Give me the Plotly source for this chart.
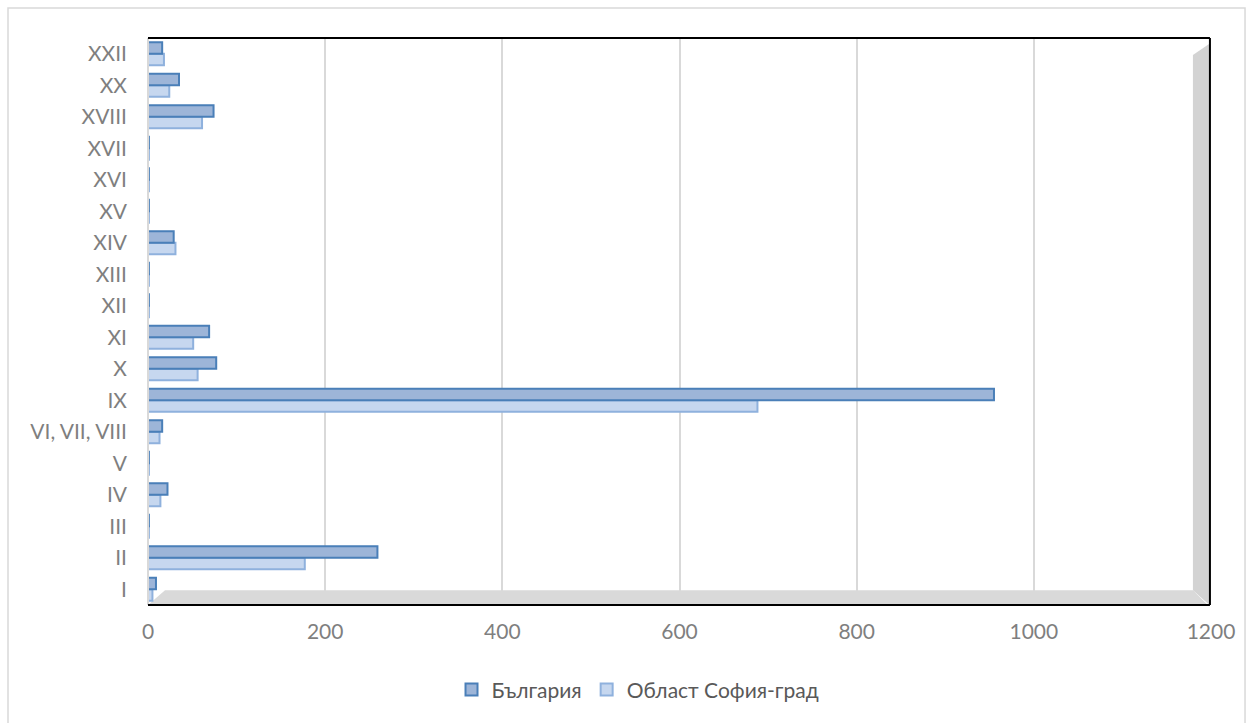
import plotly.graph_objects as go

# Categories (bottom to top) and values per series
categories = ["I", "II", "III", "IV", "V", "VI, VII, VIII", "IX", "X", "XI",
              "XII", "XIII", "XIV", "XV", "XVI", "XVII", "XVIII", "XX", "XXII"]
bulgaria = [9, 259, 1, 22, 1, 16, 955, 77, 69, 1, 1, 29, 1, 1, 1, 74, 35, 16]
sofia = [5, 177, 1, 14, 1, 13, 688, 56, 51, 1, 1, 31, 1, 1, 1, 61, 24, 18]
x_ticks = [0, 200, 400, 600, 800, 1000, 1200]

FONT = "Lato"
GRAY_TXT = "#7f7f7f"

fig = go.Figure()
fig.add_trace(go.Bar(
    y=categories, x=sofia, orientation="h", name="Област София-град",
    marker=dict(color="#c6d7ef", line=dict(color="#8fb1dd", width=2)),
    legendrank=2,
))
fig.add_trace(go.Bar(
    y=categories, x=bulgaria, orientation="h", name="България",
    marker=dict(color="#9db5d8", line=dict(color="#4a7fb8", width=2)),
    legendrank=1,
))

shapes = []
# floor and side wall of the 3D frame
shapes.append(dict(type="path", xref="paper", yref="paper", layer="below",
                   path="M 0,0 L 0.016,0.026 L 0.983,0.026 L 0.997,0 Z",
                   fillcolor="#d9d9d9", line=dict(width=0)))
shapes.append(dict(type="path", xref="paper", yref="paper", layer="below",
                   path="M 0.983,0.026 L 0.983,0.970 L 0.9985,0.99 L 0.9985,0 Z",
                   fillcolor="#d3d3d3", line=dict(width=0)))
# frame lines
shapes.append(dict(type="line", xref="paper", yref="paper", x0=0, x1=0, y0=0, y1=1,
                   line=dict(color="#d9d9d9", width=2)))
shapes.append(dict(type="line", xref="paper", yref="paper", x0=0, x1=0.999, y0=1, y1=1,
                   line=dict(color="black", width=2)))
shapes.append(dict(type="line", xref="paper", yref="paper", x0=0.999, x1=0.999, y0=0, y1=1,
                   line=dict(color="black", width=2)))
shapes.append(dict(type="line", xref="paper", yref="paper", x0=0, x1=0.999, y0=0, y1=0,
                   line=dict(color="black", width=2)))
# outer chart border
shapes.append(dict(type="path", xref="paper", yref="paper",
                   path="M -0.1317,-0.25 L -0.1317,1.0529 L 1.032,1.0529 L 1.032,-0.25",
                   line=dict(color="#d9d9d9", width=1.5)))

fig.update_layout(
    width=1251, height=723,
    margin=dict(l=148, r=40, t=38, b=118),
    paper_bgcolor="white", plot_bgcolor="white",
    barmode="group", bargap=0.27, bargroupgap=0.0,
    font=dict(family=FONT, size=21, color=GRAY_TXT),
    xaxis=dict(range=[0, 1200], tickvals=x_ticks, showgrid=True,
               gridcolor="#d9d9d9", gridwidth=2, zeroline=False,
               showline=False, ticks="", ticklen=0, ticklabelstandoff=12,
               tickfont=dict(family=FONT, size=21, color=GRAY_TXT)),
    yaxis=dict(categoryorder="array", categoryarray=categories,
               showgrid=False, zeroline=False, showline=False, ticks="",
               ticklabelstandoff=20,
               tickfont=dict(family=FONT, size=21, color=GRAY_TXT)),
    legend=dict(orientation="h", xref="container", yref="container",
                x=0.51, xanchor="center", y=0.046, yanchor="middle",
                font=dict(family=FONT, size=21, color="#595959"),
                itemwidth=30, bgcolor="rgba(0,0,0,0)"),
    shapes=shapes,
    showlegend=True,
)

fig.write_html("out.html")
